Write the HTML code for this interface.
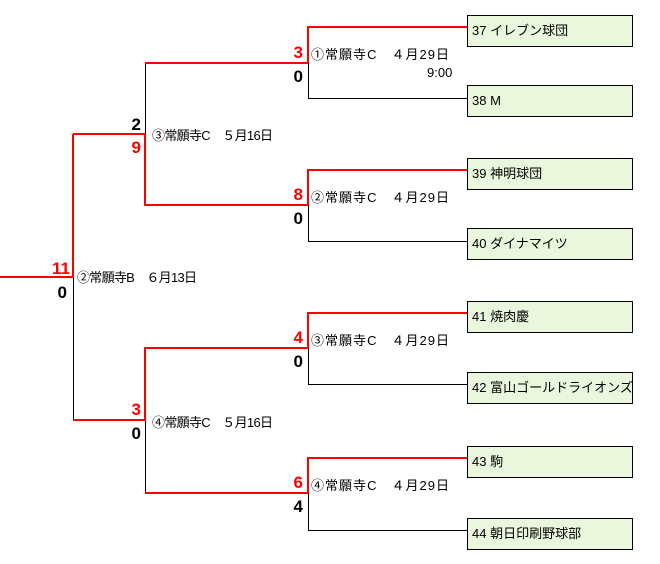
<!DOCTYPE html>
<html><head><meta charset="utf-8"><style>
body{margin:0;background:#fff;width:660px;height:559px;overflow:hidden}
svg text{font-family:"Liberation Sans","Noto Sans CJK JP",sans-serif}
.s{font-size:17px;font-weight:bold}
.l{font-size:13px}
</style></head><body>
<svg width="660" height="559" xmlns="http://www.w3.org/2000/svg">
<g fill="#eaf7dc" stroke="#000" stroke-width="1">
<rect x="467.5" y="15.5" width="165" height="31"/>
<rect x="467.5" y="85.5" width="165" height="31"/>
<rect x="467.5" y="158.5" width="165" height="31"/>
<rect x="467.5" y="228.5" width="165" height="31"/>
<rect x="467.5" y="301.5" width="165" height="31"/>
<rect x="467.5" y="372.5" width="165" height="31"/>
<rect x="467.5" y="446.5" width="165" height="31"/>
<rect x="467.5" y="518.5" width="165" height="31"/>
</g>
<g class="l" fill="#000">
<text x="472" y="35">37 イレブン球団</text>
<text x="472" y="105">38 M</text>
<text x="472" y="178">39 神明球団</text>
<text x="472" y="248">40 ダイナマイツ</text>
<text x="472" y="321">41 焼肉慶</text>
<text x="472" y="392">42 富山ゴールドライオンズ</text>
<text x="472" y="466">43 駒</text>
<text x="472" y="538">44 朝日印刷野球部</text>
</g>
<g fill="none" stroke="#000" stroke-width="1">
<path d="M308.5 63V98.5H467"/>
<path d="M308.5 205V241.5H467"/>
<path d="M308.5 348V384.5H467"/>
<path d="M308.5 493V530.5H467"/>
<path d="M145.5 63V134"/>
<path d="M145.5 420V493"/>
<path d="M73.5 277V420"/>
</g>
<g fill="none" stroke="#f00" stroke-width="2">
<path d="M467 27H308V63"/>
<path d="M467 170H308V205"/>
<path d="M467 313H308V348"/>
<path d="M467 458H308V493"/>
<path d="M308 63H145"/>
<path d="M308 205H145V134H73"/>
<path d="M308 348H145V420H73"/>
<path d="M308 493H145"/>
<path d="M0 277H73V134"/>
</g>
<g class="s" text-anchor="end">
<text x="303" y="58" fill="#f00">3</text><text x="303" y="82">0</text>
<text x="303" y="200" fill="#f00">8</text><text x="303" y="224">0</text>
<text x="303" y="343" fill="#f00">4</text><text x="303" y="367">0</text>
<text x="303" y="488" fill="#f00">6</text><text x="303" y="512">4</text>
<text x="141" y="130">2</text><text x="141" y="153" fill="#f00">9</text>
<text x="141" y="415" fill="#f00">3</text><text x="141" y="439">0</text>
<text x="70" y="274" fill="#f00">11</text><text x="67" y="298">0</text>
</g>
<g class="l" fill="#000">
<text x="311" y="59" textLength="138" lengthAdjust="spacing">①常願寺C　４月29日</text>
<text x="427" y="77">9:00</text>
<text x="311" y="202" textLength="138" lengthAdjust="spacing">②常願寺C　４月29日</text>
<text x="311" y="345" textLength="138" lengthAdjust="spacing">③常願寺C　４月29日</text>
<text x="311" y="490" textLength="138" lengthAdjust="spacing">④常願寺C　４月29日</text>
<text x="152" y="140" textLength="121" lengthAdjust="spacing">③常願寺C　５月16日</text>
<text x="152" y="427" textLength="121" lengthAdjust="spacing">④常願寺C　５月16日</text>
<text x="77" y="282" textLength="120" lengthAdjust="spacing">②常願寺B　６月13日</text>
</g>
</svg>
</body></html>
